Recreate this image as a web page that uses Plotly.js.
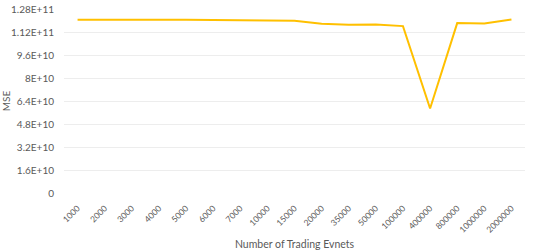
<!DOCTYPE html>
<html>
<head>
<meta charset="utf-8">
<script src="https://cdn.plot.ly/plotly-3.0.1.min.js"></script>
<style>html,body{margin:0;padding:0;background:#fff;}#chart{width:540px;height:252px;}</style>
</head>
<body>
<div id="chart"></div>
<script>
const categories = ["1000","2000","3000","4000","5000","6000","7000","10000","15000","20000","35000","50000","100000","400000","800000","1000000","2000000"];
const mseValues = [1.2046e11,1.2032e11,1.2046e11,1.2050e11,1.2046e11,1.2025e11,1.1983e11,1.1980e11,1.1980e11,1.1766e11,1.1700e11,1.1730e11,1.1610e11,5.88e10,1.1820e11,1.1787e11,1.2074e11];
const yTickVals = [0,1.6e10,3.2e10,4.8e10,6.4e10,8e10,9.6e10,1.12e11,1.28e11];
const yTickText = ["0","1.6E+10","3.2E+10","4.8E+10","6.4E+10","8E+10","9.6E+10","1.12E+11","1.28E+11"];

const fontFam = "Lato, 'Open Sans', sans-serif";
const data = [{
  x: categories, y: mseValues, type: 'scatter', mode: 'lines',
  line: {color: '#FFC000', width: 2}, hoverinfo: 'skip'
}];
const layout = {
  width: 540, height: 252,
  margin: {l: 64, r: 15, t: 9, b: 59},
  paper_bgcolor: '#fff', plot_bgcolor: '#fff',
  showlegend: false,
  font: {family: fontFam, size: 10, color: '#595959'},
  xaxis: {
    type: 'category', range: [-0.5, categories.length - 0.5], tickangle: -45,
    showgrid: false, zeroline: false,
    showline: false, ticks: 'outside', ticklen: 6, tickcolor: 'rgba(0,0,0,0)', automargin: false,
    tickfont: {family: fontFam, size: 8.5, color: '#595959'},
    title: {text: 'Number of Trading Evnets', font: {family: fontFam, size: 10.5, color: '#595959'}, standoff: 6}
  },
  yaxis: {
    range: [0, 1.28e11], tickvals: yTickVals, ticktext: yTickText,
    showgrid: true, gridcolor: '#EDEDED', gridwidth: 1, zeroline: false,
    showline: false, ticks: 'outside', ticklen: 7, tickcolor: 'rgba(0,0,0,0)', automargin: false,
    tickfont: {family: fontFam, size: 10, color: '#595959'},
    title: {text: 'MSE', font: {family: fontFam, size: 10, color: '#595959'}, standoff: 4}
  }
};
Plotly.newPlot('chart', data, layout, {displayModeBar: false, staticPlot: true});
</script>
</body>
</html>
